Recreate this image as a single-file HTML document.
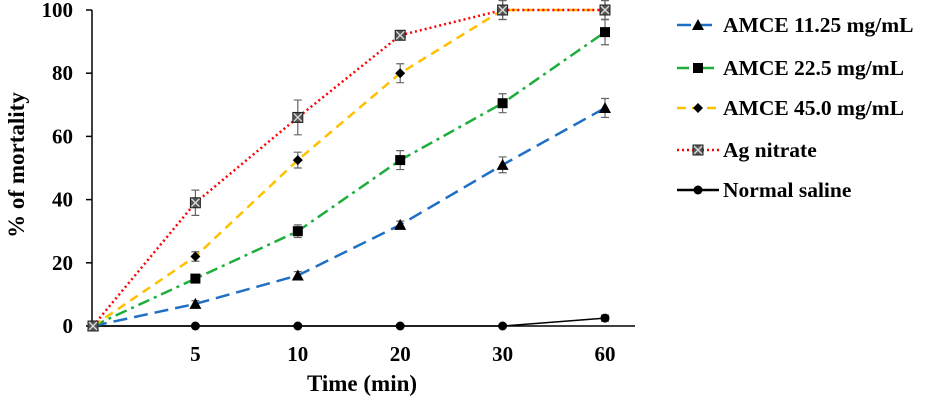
<!DOCTYPE html>
<html><head><meta charset="utf-8"><style>
body{margin:0;background:#fff}
svg{display:block;font-family:"Liberation Serif",serif;font-weight:bold}
</style></head><body>
<svg id="chart" width="931" height="400">
<g id="plot"></g>
<g id="legend"></g>
</svg>
<script>
const categories=["0","5","10","20","30","60"];
const yTicks=[0,20,40,60,80,100];
const seriesNames=["AMCE 11.25 mg/mL","AMCE 22.5 mg/mL","AMCE 45.0 mg/mL","Ag nitrate","Normal saline"];
const s1=[0,7,16,32,51,69];
const s2=[0,15,30,52.5,70.5,93];
const s3=[0,22,52.5,80,100,100];
const s4=[0,39,66,92,100,100];
const s5=[0,0,0,0,0,2.5];
const e1=[0,1,1.2,1.2,2.5,3];
const e2=[0,1,2,3,3,4];
const e3=[0,1.5,2.5,3,3,3];
const e4=[0,4,5.5,1,3,3];
const e5=[0,0,0,0,0,1];

const NS="http://www.w3.org/2000/svg";
const x=i=>93+i*102.4;
const y=v=>326-v*3.16;
const plot=document.getElementById('plot');
const leg=document.getElementById('legend');
function mk(t,a,p){const e=document.createElementNS(NS,t);for(const k in a)e.setAttribute(k,a[k]);(p||plot).appendChild(e);return e;}

let ax=mk('line',{x1:92,y1:y(0),x2:635,y2:y(0),stroke:'#000','stroke-width':1.5});


let ay=mk('line',{x1:92,y1:y(0),x2:92,y2:y(100),stroke:'#000','stroke-width':1.5});


yTicks.forEach(v=>{
 mk('line',{x1:86,x2:92,y1:y(v),y2:y(v),stroke:'#000','stroke-width':1.5});
 const t=mk('text',{x:73,y:y(v)+7,'text-anchor':'end','font-size':21});t.textContent=v;
 
 
});
categories.forEach((c,i)=>{if(i===0)return;
 const t=mk('text',{x:x(i),y:361,'text-anchor':'middle','font-size':21});t.textContent=c;
 
 
});
let xt=mk('text',{x:362,y:391,'text-anchor':'middle','font-size':23});xt.textContent='Time (min)';


let yt=mk('text',{x:0,y:0,'text-anchor':'middle','font-size':23,transform:'translate(24,165) rotate(-90)'});yt.textContent='% of mortality';



const styles=[
 {c:'#1f6fc5',d:'14,7',m:'tri'},
 {c:'#1fae3c',d:'12,5,3,5',m:'sq'},
 {c:'#ffc000',d:'9,6',m:'dia'},
 {c:'#ff0000',d:'2,3',m:'x'},
 {c:'#000',d:'',m:'dot'}];
const data=[s1,s2,s3,s4,s5],errs=[e1,e2,e3,e4,e5];
function marker(m,cx,cy,p){
 let e;
 if(m==='tri')e=mk('polygon',{points:`${cx},${cy-6} ${cx-6},${cy+5} ${cx+6},${cy+5}`,fill:'#000'},p);
 else if(m==='sq')e=mk('rect',{x:cx-5,y:cy-5,width:10,height:10,fill:'#000'},p);
 else if(m==='dia')e=mk('polygon',{points:`${cx},${cy-5} ${cx+5},${cy} ${cx},${cy+5} ${cx-5},${cy}`,fill:'#000'},p);
 else if(m==='x'){e=mk('rect',{x:cx-5,y:cy-5,width:10,height:10,fill:'#555',stroke:'#222'},p);
  mk('path',{d:`M${cx-4} ${cy-4}L${cx+4} ${cy+4}M${cx+4} ${cy-4}L${cx-4} ${cy+4}`,stroke:'#ddd','stroke-width':1.3},p);}
 else e=mk('circle',{cx,cy,r:4.5,fill:'#000'},p);
 return e;
}
[4,0,1,2,3].forEach(si=>{
 const st=styles[si],d=data[si];
 const pts=d.map((v,i)=>x(i)+','+y(v)).join(' ');
 const l=mk('polyline',{points:pts,fill:'none',stroke:st.c,'stroke-width':si===4?1.5:2.5,'stroke-dasharray':st.d});
 
 
 d.forEach((v,i)=>{
  const e=errs[si][i];
  if(e>0){const x0=x(i),a=y(v+e),b=y(v-e);
   mk('path',{d:`M${x0} ${a}V${b}M${x0-4} ${a}H${x0+4}M${x0-4} ${b}H${x0+4}`,stroke:'#666','stroke-width':1.2});}
  const mm=marker(st.m,x(i),y(v));
  
  
 });
});
const ly=[25,68,108,150,190];
seriesNames.forEach((n,i)=>{
 const st=styles[i];
 const ln=mk('line',{x1:677,x2:719,y1:ly[i],y2:ly[i],stroke:st.c,'stroke-width':2.5,'stroke-dasharray':st.d},leg);
 marker(st.m,698,ly[i],leg);
 const t=mk('text',{x:723,y:ly[i]+7,'font-size':21.5},leg);t.textContent=n;
 
 
});
</script>
</body></html>
